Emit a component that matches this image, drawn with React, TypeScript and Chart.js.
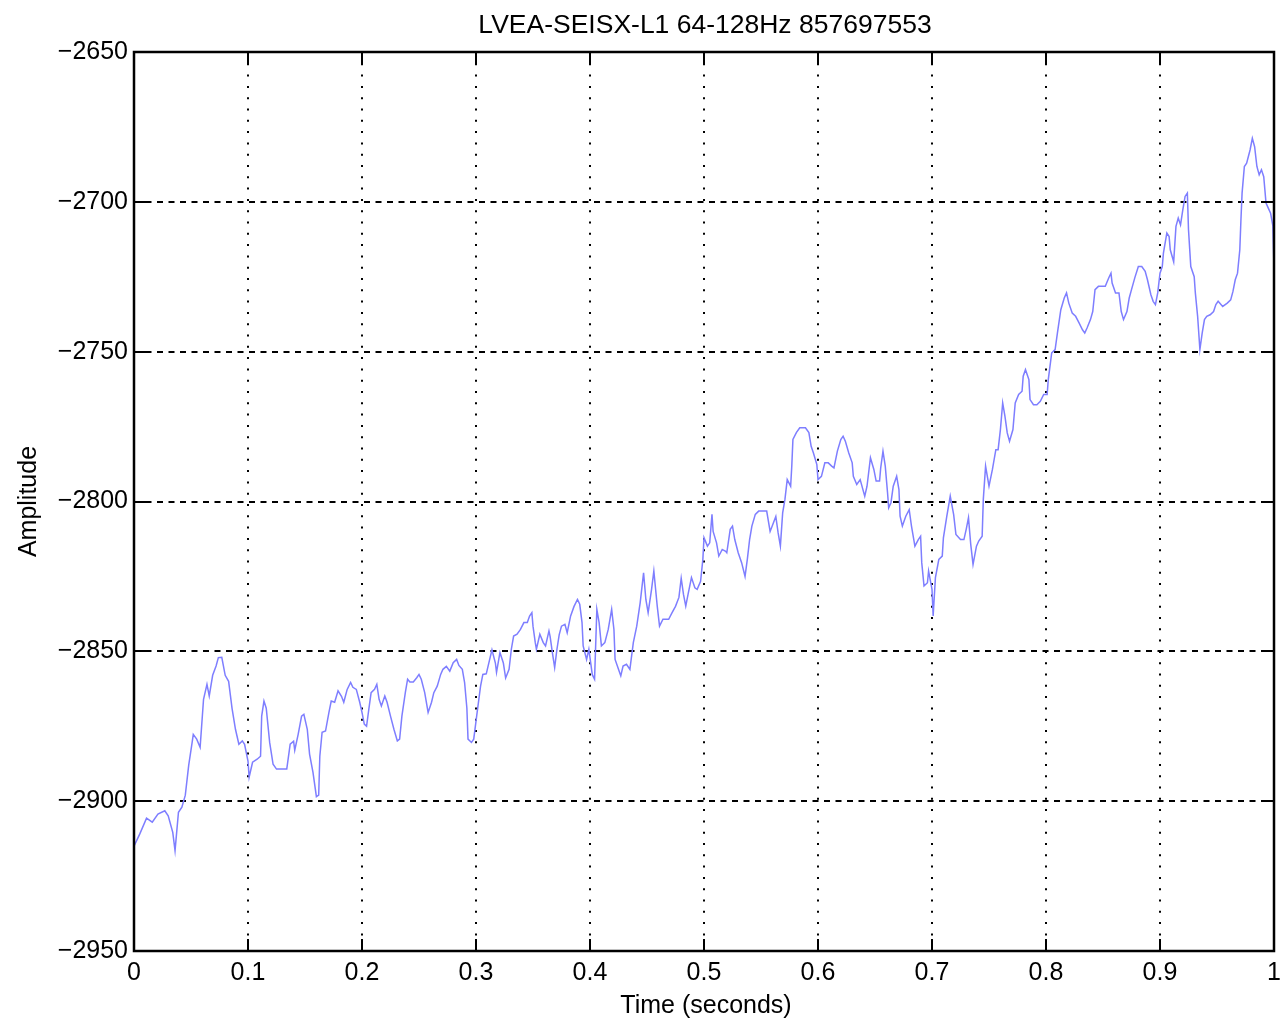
import React, { useEffect, useRef } from "react";
import { Chart, registerables } from "chart.js";

Chart.register(...registerables);

const chartTitle = "LVEA-SEISX-L1 64-128Hz 857697553";
const xAxisTitle = "Time (seconds)";
const yAxisTitle = "Amplitude";

const xTickValues = [0, 0.1, 0.2, 0.3, 0.4, 0.5, 0.6, 0.7, 0.8, 0.9, 1];
const xTickLabels = ["0", "0.1", "0.2", "0.3", "0.4", "0.5", "0.6", "0.7", "0.8", "0.9", "1"];
const yTickValues = [-2950, -2900, -2850, -2800, -2750, -2700, -2650];
const yTickLabels = ["\u22122950", "\u22122900", "\u22122850", "\u22122800", "\u22122750", "\u22122700", "\u22122650"];

// Seismometer trace, [time (s), amplitude], one block per 0.1 s
const seg0: [number, number][] = [
  [0.000, -2915], [0.005, -2911], [0.011, -2905.7], [0.016, -2907], [0.021, -2904.3], [0.027, -2903.2], [0.030, -2904.9],
  [0.034, -2910.4], [0.036, -2916.5], [0.039, -2903.7], [0.042, -2902], [0.045, -2898], [0.048, -2888], [0.051, -2880.4],
  [0.052, -2877.7], [0.055, -2879.3], [0.058, -2882], [0.061, -2866], [0.064, -2861], [0.066, -2864.9], [0.069, -2858],
  [0.072, -2854.9], [0.074, -2852.1], [0.077, -2852], [0.080, -2858], [0.083, -2860], [0.086, -2869], [0.089, -2876],
  [0.092, -2881], [0.095, -2879.9], [0.097, -2881],
];
const seg1: [number, number][] = [
  [0.100, -2886.6], [0.101, -2892], [0.104, -2887], [0.108, -2886], [0.111, -2885], [0.112, -2871.6], [0.114, -2866.6],
  [0.116, -2869], [0.119, -2880.4], [0.122, -2887.7], [0.125, -2889.3], [0.134, -2889.3], [0.137, -2881], [0.140, -2880],
  [0.141, -2883], [0.144, -2877.7], [0.147, -2871.6], [0.149, -2871], [0.152, -2876], [0.154, -2884.3], [0.157, -2890.4],
  [0.160, -2898.5], [0.162, -2898], [0.163, -2885], [0.165, -2877], [0.168, -2876.6], [0.171, -2870.4], [0.173, -2866.6],
  [0.176, -2867], [0.179, -2863.2], [0.182, -2865], [0.184, -2867], [0.187, -2862.7], [0.190, -2860.4], [0.192, -2862],
  [0.195, -2862.7], [0.198, -2867],
];
const seg2: [number, number][] = [
  [0.200, -2870.4], [0.202, -2874.3], [0.204, -2875], [0.206, -2869.3], [0.208, -2863.8], [0.211, -2862.7], [0.213, -2861],
  [0.215, -2866], [0.217, -2868.2], [0.220, -2864.9], [0.222, -2867], [0.225, -2871.6], [0.228, -2876], [0.231, -2879.9],
  [0.233, -2879.3], [0.235, -2871.6], [0.238, -2863.8], [0.240, -2859.3], [0.242, -2860.2], [0.245, -2860.2], [0.248, -2858.8],
  [0.250, -2857.7], [0.252, -2859.3], [0.255, -2863.8], [0.258, -2870.4], [0.261, -2867], [0.263, -2863.8], [0.266, -2861.6],
  [0.269, -2857.7], [0.271, -2856], [0.274, -2855], [0.277, -2856.6], [0.280, -2853.8], [0.283, -2852.7], [0.285, -2854.7],
  [0.288, -2856], [0.290, -2860.4], [0.292, -2869], [0.293, -2879.3], [0.296, -2880.4], [0.298, -2879.3],
];
const seg3: [number, number][] = [
  [0.301, -2870.4], [0.304, -2861.6], [0.306, -2857.7], [0.309, -2857.5], [0.312, -2852.7], [0.314, -2849.5], [0.317, -2853.9],
  [0.318, -2857], [0.321, -2850.4], [0.324, -2853.9], [0.326, -2858.9], [0.329, -2856], [0.331, -2849.3], [0.333, -2844.9],
  [0.336, -2844.3], [0.339, -2842.7], [0.342, -2840.4], [0.345, -2840.4], [0.347, -2838.2], [0.349, -2837.1], [0.350, -2841.6],
  [0.352, -2847.1], [0.353, -2849.3], [0.356, -2844.3], [0.359, -2847.1], [0.361, -2848.2], [0.364, -2843.2], [0.365, -2845],
  [0.367, -2850.4], [0.369, -2855.4], [0.371, -2849.3], [0.373, -2844.4], [0.375, -2841.6], [0.378, -2841], [0.380, -2843.8],
  [0.383, -2838.2], [0.386, -2835], [0.389, -2832.7], [0.391, -2834.3], [0.393, -2840.4], [0.394, -2848.2], [0.397, -2852.7],
  [0.399, -2849.3],
];
const seg4: [number, number][] = [
  [0.402, -2857.8], [0.404, -2859.3], [0.406, -2836], [0.408, -2840.4], [0.410, -2848.2], [0.413, -2847.1], [0.416, -2842.7],
  [0.419, -2836], [0.421, -2842.7], [0.422, -2852.7], [0.425, -2856], [0.427, -2858.2], [0.429, -2854.9], [0.432, -2854.3],
  [0.435, -2856], [0.438, -2847.1], [0.441, -2841.6], [0.444, -2833.8], [0.447, -2823.8], [0.449, -2832.7], [0.451, -2837.1],
  [0.454, -2829.3], [0.456, -2823.2], [0.459, -2835], [0.461, -2841.6], [0.464, -2839.3], [0.469, -2839.3], [0.472, -2837.1],
  [0.475, -2835], [0.478, -2832], [0.480, -2825.6], [0.482, -2831], [0.484, -2834.9], [0.486, -2831], [0.489, -2825.4],
  [0.492, -2828.8], [0.494, -2829.3], [0.497, -2826.6], [0.499, -2819.3],
];
const seg5: [number, number][] = [
  [0.500, -2812.1], [0.503, -2814.9], [0.505, -2813.8], [0.507, -2804.3], [0.508, -2810], [0.511, -2813.8], [0.513, -2818.2],
  [0.516, -2816], [0.519, -2816.6], [0.520, -2817.1], [0.523, -2809.3], [0.525, -2808.2], [0.527, -2812.7], [0.530, -2817.1],
  [0.533, -2820.4], [0.536, -2825], [0.538, -2819.3], [0.540, -2812.7], [0.542, -2808.2], [0.545, -2804.3], [0.548, -2803.2],
  [0.555, -2803.2], [0.558, -2810], [0.561, -2807], [0.563, -2805], [0.565, -2810.4], [0.567, -2814.9], [0.569, -2803.8],
  [0.571, -2799.3], [0.573, -2792.7], [0.576, -2794.9], [0.577, -2788.2], [0.578, -2779.3], [0.581, -2777], [0.584, -2775.4],
  [0.589, -2775.4], [0.592, -2777], [0.594, -2781.6], [0.596, -2783.8], [0.599, -2787.7],
];
const seg6: [number, number][] = [
  [0.600, -2792.7], [0.603, -2791.6], [0.606, -2787.1], [0.609, -2787.1], [0.612, -2788.2], [0.614, -2788.8], [0.617, -2783.2],
  [0.620, -2779.3], [0.622, -2778.2], [0.624, -2779.9], [0.627, -2783.8], [0.630, -2787.1], [0.631, -2791.6], [0.634, -2794.3],
  [0.637, -2792.7], [0.641, -2798.2], [0.643, -2794.9], [0.646, -2785.4], [0.649, -2789.3], [0.651, -2793.2], [0.654, -2793.2],
  [0.655, -2788.8], [0.657, -2783.2], [0.659, -2788.2], [0.661, -2797.1], [0.662, -2802.1], [0.664, -2800.4], [0.666, -2794.9],
  [0.669, -2791.6], [0.671, -2796], [0.672, -2804.9], [0.674, -2808.2], [0.677, -2804.9], [0.680, -2802.7], [0.682, -2808.2],
  [0.685, -2814.9], [0.688, -2812.7], [0.690, -2811.6], [0.691, -2820.4], [0.693, -2828.2], [0.696, -2827.1], [0.697, -2823.2],
];
const seg7: [number, number][] = [
  [0.700, -2829.3], [0.701, -2838.2], [0.703, -2825.4], [0.706, -2819.3], [0.709, -2818.2], [0.710, -2812.1], [0.713, -2804.9],
  [0.716, -2798.2], [0.719, -2804.4], [0.721, -2811], [0.725, -2812.7], [0.728, -2812.7], [0.730, -2809.3], [0.732, -2805.4],
  [0.734, -2814.4], [0.736, -2821], [0.739, -2814.9], [0.741, -2813.2], [0.744, -2811.6], [0.745, -2799.3], [0.747, -2788.2],
  [0.750, -2794.9], [0.753, -2789.3], [0.756, -2782.7], [0.758, -2782.7], [0.760, -2776], [0.762, -2767.1], [0.764, -2771.6],
  [0.766, -2777.1], [0.768, -2779.9], [0.771, -2776], [0.773, -2767.1], [0.776, -2764.3], [0.779, -2763.2], [0.780, -2758.2],
  [0.782, -2756], [0.785, -2759.3], [0.786, -2766], [0.789, -2767.7], [0.792, -2767.7], [0.795, -2766.6], [0.798, -2764.3],
];
const seg8: [number, number][] = [
  [0.801, -2764.3], [0.802, -2759.3], [0.805, -2750.4], [0.808, -2749.3], [0.810, -2743.8], [0.813, -2736], [0.816, -2732.1],
  [0.818, -2730.4], [0.820, -2733.8], [0.823, -2737.1], [0.826, -2738.2], [0.829, -2740.4], [0.832, -2742.7], [0.834, -2743.8],
  [0.836, -2742.1], [0.839, -2739.3], [0.841, -2736.6], [0.843, -2729.3], [0.846, -2728.2], [0.852, -2728.2], [0.855, -2725.4],
  [0.857, -2723.8], [0.858, -2727.1], [0.861, -2730.4], [0.864, -2730.4], [0.866, -2736.6], [0.868, -2739.3], [0.871, -2736.6],
  [0.873, -2732.1], [0.875, -2729.3], [0.878, -2725.2], [0.881, -2721.6], [0.884, -2721.6], [0.887, -2723.2], [0.889, -2726],
  [0.892, -2731], [0.894, -2733.2], [0.896, -2734.3], [0.898, -2730.4],
];
const seg9: [number, number][] = [
  [0.900, -2723.8], [0.902, -2721.6], [0.903, -2717.1], [0.906, -2710.4], [0.908, -2711.6], [0.909, -2716], [0.912, -2720],
  [0.914, -2708.2], [0.916, -2705.4], [0.918, -2707.7], [0.920, -2702.7], [0.922, -2698.2], [0.924, -2697.1], [0.925, -2709.3],
  [0.927, -2721.6], [0.930, -2725], [0.931, -2730.4], [0.933, -2738.2], [0.935, -2749.3], [0.937, -2743.8], [0.939, -2739.3],
  [0.941, -2738.2], [0.944, -2737.7], [0.947, -2736.6], [0.949, -2734.3], [0.951, -2733.2], [0.955, -2734.9], [0.959, -2733.8],
  [0.962, -2732.7], [0.964, -2729.9], [0.966, -2726], [0.968, -2723.8], [0.970, -2716], [0.971, -2706], [0.972, -2697.1],
  [0.974, -2688.2], [0.976, -2687.1], [0.979, -2682.7], [0.981, -2678.8], [0.983, -2681.6], [0.985, -2688.2], [0.987, -2691],
  [0.989, -2689.3], [0.991, -2691.6], [0.993, -2700.4], [0.995, -2702.1], [0.997, -2703.8], [0.999, -2708], [1.000, -2722],
];

const trace = [seg0, seg1, seg2, seg3, seg4, seg5, seg6, seg7, seg8, seg9].flat();

const FONT_FAMILY = "'Liberation Sans', Arial, Helvetica, sans-serif";
const TICK_LEN = 12;

// Grid, boxed frame with inward ticks, and the title/axis labels
const axesPlugin = {
  id: "matlabAxes",
  beforeDatasetsDraw(chart: any) {
    const { ctx, chartArea: a, scales } = chart;
    const x = scales.x;
    const y = scales.y;
    ctx.save();
    ctx.strokeStyle = "#000";
    ctx.lineWidth = 2;
    ctx.setLineDash([2, 9.3]);
    for (const v of xTickValues) {
      if (v === 0 || v === 1) continue;
      const px = Math.round(x.getPixelForValue(v));
      ctx.beginPath();
      ctx.moveTo(px, a.top);
      ctx.lineTo(px, a.bottom);
      ctx.stroke();
    }
    ctx.setLineDash([6, 5.5]);
    for (const v of yTickValues) {
      if (v === -2950 || v === -2650) continue;
      const py = Math.round(y.getPixelForValue(v));
      ctx.beginPath();
      ctx.moveTo(a.left, py);
      ctx.lineTo(a.right, py);
      ctx.stroke();
    }
    ctx.restore();
  },
  afterDatasetsDraw(chart: any) {
    const { ctx, chartArea: a, scales } = chart;
    const x = scales.x;
    const y = scales.y;
    ctx.save();
    ctx.strokeStyle = "#000";
    ctx.lineWidth = 2.5;
    ctx.setLineDash([]);
    ctx.strokeRect(a.left, a.top, a.right - a.left, a.bottom - a.top);
    ctx.lineWidth = 2;
    ctx.beginPath();
    for (const v of xTickValues) {
      const px = Math.round(x.getPixelForValue(v));
      ctx.moveTo(px, a.bottom);
      ctx.lineTo(px, a.bottom - TICK_LEN);
      ctx.moveTo(px, a.top);
      ctx.lineTo(px, a.top + TICK_LEN);
    }
    for (const v of yTickValues) {
      const py = Math.round(y.getPixelForValue(v));
      ctx.moveTo(a.left, py);
      ctx.lineTo(a.left + TICK_LEN, py);
      ctx.moveTo(a.right, py);
      ctx.lineTo(a.right - TICK_LEN, py);
    }
    ctx.stroke();
    ctx.restore();
  },
  afterDraw(chart: any) {
    const { ctx, chartArea: a } = chart;
    const cx = (a.left + a.right) / 2;
    const cy = (a.top + a.bottom) / 2;
    ctx.save();
    ctx.fillStyle = "#000";
    ctx.textAlign = "center";
    ctx.textBaseline = "alphabetic";
    ctx.font = `26.5px ${FONT_FAMILY}`;
    ctx.fillText(chartTitle, cx + 1, 33);
    ctx.font = `25px ${FONT_FAMILY}`;
    ctx.fillText(xAxisTitle, cx + 2, 1013);
    ctx.translate(36, cy);
    ctx.rotate(-Math.PI / 2);
    ctx.fillText(yAxisTitle, 0, 0);
    ctx.restore();
  },
};

export default function App() {
  const canvasRef = useRef<HTMLCanvasElement | null>(null);

  useEffect(() => {
    const canvas = canvasRef.current;
    if (!canvas) return;
    const tickFont = { family: FONT_FAMILY, size: 25 };
    const chart = new Chart(canvas, {
      type: "line",
      data: {
        datasets: [
          {
            data: trace.map(([t, v]) => ({ x: t, y: v })),
            borderColor: "#7e7eff",
            borderWidth: 1.5,
            pointRadius: 0,
            tension: 0,
            fill: false,
            clip: 4,
          },
        ],
      },
      options: {
        animation: false,
        responsive: false,
        devicePixelRatio: 1,
        layout: { padding: { top: 52, right: 11, left: 0, bottom: 0 } },
        plugins: {
          legend: { display: false },
          title: { display: false },
          tooltip: { enabled: false },
        },
        scales: {
          x: {
            type: "linear",
            min: 0,
            max: 1,
            grid: { display: false, drawTicks: false, tickLength: 0 },
            border: { display: false },
            afterBuildTicks: (scale: any) => {
              scale.ticks = xTickValues.map((v) => ({ value: v }));
            },
            afterFit: (scale: any) => {
              scale.height = 76;
              scale.paddingLeft = 0;
              scale.paddingRight = 0;
            },
            ticks: {
              autoSkip: false,
              maxRotation: 0,
              padding: 7,
              color: "#000",
              font: tickFont,
              callback: (_v: any, i: number) => xTickLabels[i],
            },
          },
          y: {
            type: "linear",
            min: -2950,
            max: -2650,
            grid: { display: false, drawTicks: false, tickLength: 0 },
            border: { display: false },
            afterBuildTicks: (scale: any) => {
              scale.ticks = yTickValues.map((v) => ({ value: v }));
            },
            afterFit: (scale: any) => {
              scale.width = 134;
              scale.paddingTop = 0;
              scale.paddingBottom = 0;
            },
            ticks: {
              autoSkip: false,
              padding: 6,
              color: "#000",
              font: tickFont,
              callback: (_v: any, i: number) => yTickLabels[i],
            },
          },
        },
      },
      plugins: [axesPlugin],
    });
    return () => chart.destroy();
  }, []);

  return (
    <div style={{ position: "absolute", left: 0, top: 0, width: 1285, height: 1027, background: "#fff" }}>
      <canvas ref={canvasRef} width={1285} height={1027} style={{ width: 1285, height: 1027, display: "block" }} />
    </div>
  );
}
